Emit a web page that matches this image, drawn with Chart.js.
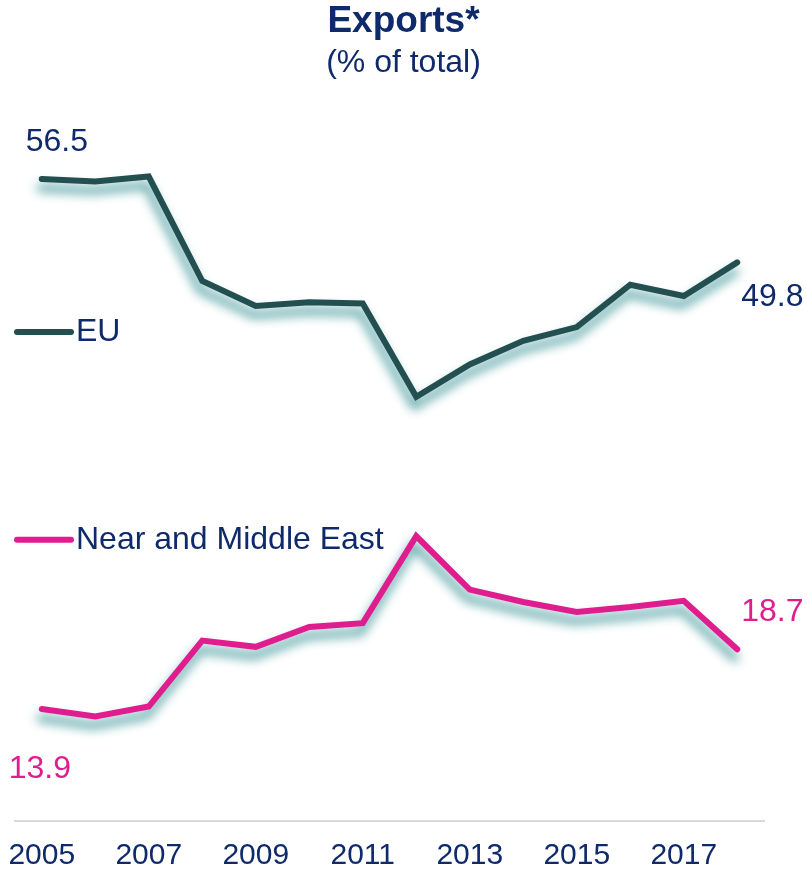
<!DOCTYPE html>
<html>
<head>
<meta charset="utf-8">
<script src="https://cdn.jsdelivr.net/npm/chart.js@4"></script>
<style>
    html, body { margin: 0; padding: 0; background: #fff; }
    #wrap { width: 807px; height: 875px; position: relative; }
    .head {
        position: absolute; left: 0; top: 0; width: 807px;
        text-align: center; color: #0f2a6b;
        font-family: "Liberation Sans", Arial, sans-serif;
    }
    .head .t { font-size: 37px; font-weight: bold; line-height: 40px; }
    .head .s { font-size: 32px; line-height: 42px; }
</style>
</head>
<body>
<div id="wrap">
    <canvas id="exportsChart"></canvas>
    <div class="head"><div class="t">Exports*</div><div class="s">(% of total)</div></div>
</div>
<script>
// Данные графика
const years = ['2005', '2006', '2007', '2008', '2009', '2010', '2011',
               '2012', '2013', '2014', '2015', '2016', '2017', '2018'];
const euShare = [56.5, 56.3, 56.7, 48.3, 46.3, 46.6, 46.5, 39.0, 41.6, 43.5, 44.6, 48.0, 47.1, 49.8];
const nmeShare = [13.9, 13.3, 14.1, 19.4, 18.9, 20.5, 20.8, 27.8, 23.5, 22.5, 21.7, 22.1, 22.6, 18.7];
const seriesNames = ['EU', 'Near and Middle East'];

const NAVY = '#0f2a6b';
const EU_COLOR = '#234f50';
const NME_COLOR = '#e01d8e';
const FONT = '"Liberation Sans", Arial, sans-serif';

// Тень под линиями
const lineShadow = {
    id: 'lineShadow',
    beforeDatasetsDraw(chart) {
        const c = chart.ctx;
        c.save();
        c.shadowColor = 'rgba(55, 145, 148, 1)';
        c.shadowBlur = 11;
        c.shadowOffsetX = -2;
        c.shadowOffsetY = 9;
    },
    afterDatasetsDraw(chart) {
        chart.ctx.restore();
    }
};

// Подписи первого и последнего значения + подписи серий у линий
const lineLabels = {
    id: 'lineLabels',
    afterDatasetsDraw(chart, args, opts) {
        const ctx = chart.ctx;
        const y = chart.scales.y;
        ctx.save();
        ctx.font = '32px ' + FONT;
        ctx.textBaseline = 'middle';
        ctx.textAlign = 'left';
        chart.data.datasets.forEach((ds, i) => {
            const meta = chart.getDatasetMeta(i);
            const first = meta.data[0];
            const last = meta.data[meta.data.length - 1];
            const o = opts.offsets[i];
            ctx.fillStyle = opts.valueColors[i];
            ctx.fillText(ds.data[0].toFixed(1), first.x + o.first[0], first.y + o.first[1]);
            ctx.fillText(ds.data[ds.data.length - 1].toFixed(1), last.x + o.last[0], last.y + o.last[1]);

            // подпись серии с образцом линии
            const ly = y.getPixelForValue(opts.nameAt[i]);
            ctx.strokeStyle = ds.borderColor;
            ctx.lineWidth = 6;
            ctx.lineCap = 'round';
            ctx.beginPath();
            ctx.moveTo(17, ly);
            ctx.lineTo(71, ly);
            ctx.stroke();
            ctx.fillStyle = NAVY;
            ctx.fillText(ds.label, 76, ly);
        });
        ctx.restore();
    }
};

function initExportsChart() {
    const ctx = document.getElementById('exportsChart').getContext('2d');

    new Chart(ctx, {
        type: 'line',
        data: {
            labels: years,
            datasets: [
                {
                    label: seriesNames[0],
                    data: euShare,
                    borderColor: EU_COLOR,
                    borderWidth: 6,
                    borderCapStyle: 'round',
                    pointRadius: 0,
                    tension: 0
                },
                {
                    label: seriesNames[1],
                    data: nmeShare,
                    borderColor: NME_COLOR,
                    borderWidth: 6,
                    borderCapStyle: 'round',
                    pointRadius: 0,
                    tension: 0
                }
            ]
        },
        options: {
            responsive: true,
            maintainAspectRatio: false,
            animation: false,
            layout: {
                padding: { left: 15, right: 43, top: 100, bottom: 1 }
            },
            scales: {
                x: {
                    type: 'category',
                    offset: true,
                    // отступ подписей через tickLength, чтобы не сдвигать область графика
                    grid: { display: false, drawTicks: true, tickLength: 17 },
                    border: { display: true, color: '#d9d9d9', width: 2 },
                    ticks: {
                        autoSkip: false,
                        maxRotation: 0,
                        padding: 0,
                        color: NAVY,
                        font: { family: FONT, size: 30 },
                        callback: function(value, index) {
                            return index % 2 === 0 ? this.getLabelForValue(value) : '';
                        }
                    }
                },
                y: {
                    display: false,
                    min: 4.9,
                    max: 62.85
                }
            },
            plugins: {
                legend: { display: false },
                tooltip: { enabled: false },
                lineLabels: {
                    valueColors: [NAVY, NME_COLOR],
                    offsets: [
                        { first: [-16, -37], last: [4, 35] },
                        { first: [-33, 60], last: [4, -37] }
                    ],
                    nameAt: [44.2, 27.5]
                }
            }
        },
        plugins: [lineShadow, lineLabels]
    });
}

initExportsChart();
</script>
</body>
</html>
